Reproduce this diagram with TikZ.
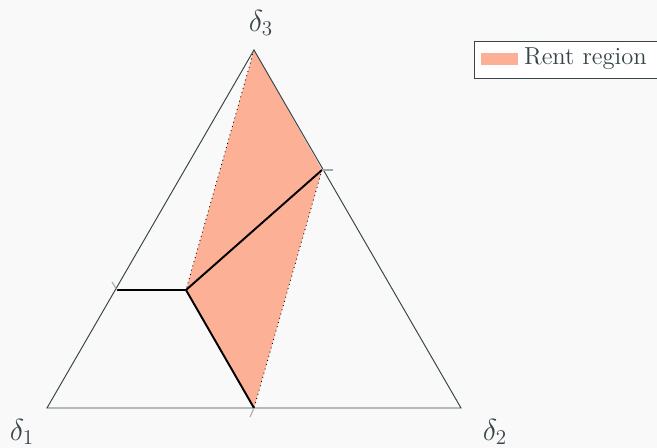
\documentclass[tikz,border=0pt]{standalone}
\usepackage{amsmath}
\usepackage{xcolor}
\usepackage{tikz}
\usetikzlibrary{positioning}

\definecolor{rentfill}{RGB}{252,176,150}
\definecolor{edgegray}{RGB}{55,68,72}
\definecolor{bggray}{RGB}{249,249,249}

\begin{document}
\begin{tikzpicture}[x=0.02cm, y=-0.02cm,
    edge/.style={draw=edgegray, line width=0.55pt},
    split/.style={draw=black, line width=1.1pt},
    bound/.style={draw=black, dotted, line width=0.5pt},
    stub/.style={draw=gray!70, line width=0.6pt},
    lbl/.style={text=edgegray, font=\fontsize{14}{17}\selectfont},
    vlbl/.style={text=edgegray, font=\fontsize{18.5}{22}\selectfont}
]
\fill[bggray] (0,0) rectangle (657,448);
\useasboundingbox (0,0) rectangle (657,448);

\coordinate (d1) at (47,408);
\coordinate (d2) at (461,408);
\coordinate (d3) at (254,50);
\coordinate (l) at (117,290);
\coordinate (r) at (322,170);
\coordinate (m) at (254,408);
\coordinate (c) at (186,290);

% rent region
\fill[rentfill] (d3) -- (r) -- (m) -- (c) -- cycle;
\draw[bound] (d3) -- (c);
\draw[bound] (r) -- (m);

\draw[edge] (d1) -- (d2) -- (d3) -- cycle;

\draw[split] (l) -- (c) -- (r);
\draw[split] (c) -- (m);

\draw[stub] (l) -- ++(-5,-8);
\draw[stub] (r) -- ++(11,0);
\draw[stub] (m) -- ++(-4,9);

\node[vlbl] (t1) at (22,432) {$\delta_1$};
\node[vlbl] (t2) at (495,432) {$\delta_2$};
\node[vlbl] (t3) at (261,23) {$\delta_3$};

% legend
\node[draw=edgegray, fill=white, line width=0.6pt, anchor=north west,
      minimum width=3.9cm, minimum height=0.74cm] (legend) at (474,41) {};
\node[fill=rentfill, inner sep=0pt, minimum width=0.74cm, minimum height=0.24cm,
      anchor=west] (swatch) at (481,59) {};
\node[lbl, inner sep=0pt, right=0.1cm of swatch] (legtext) {Rent region};
\end{tikzpicture}
\end{document}
